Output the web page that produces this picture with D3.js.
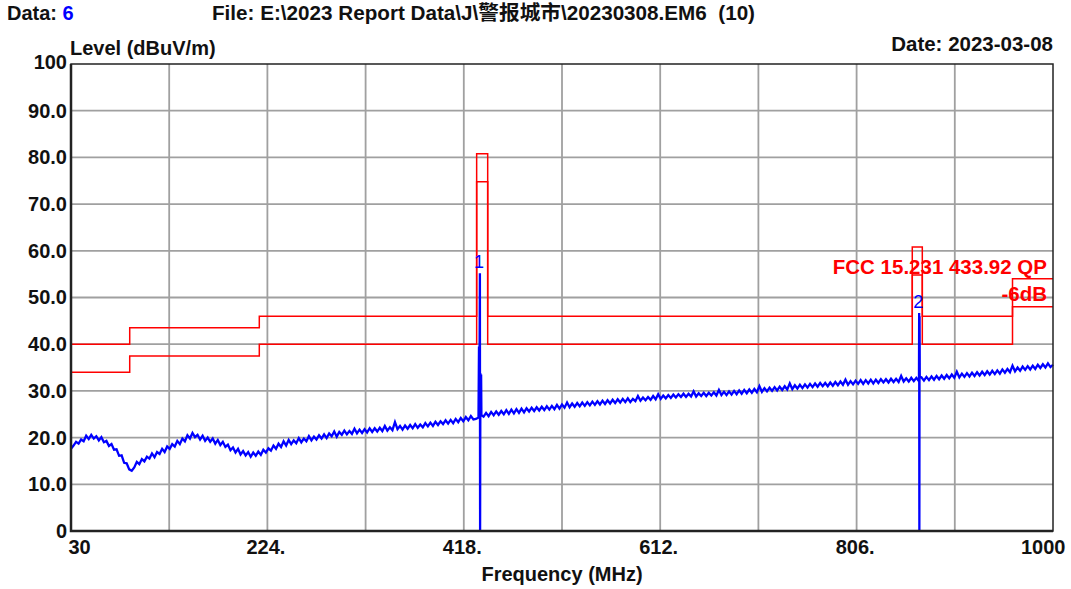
<!DOCTYPE html>
<html>
<head>
<meta charset="utf-8">
<script src="https://cdn.jsdelivr.net/npm/d3@7"></script>
<style>
  body { margin: 0; background: #fff; }
  svg text { font-family: "Liberation Sans", Arial, "Noto Sans CJK SC", sans-serif; font-weight: bold; }
</style>
</head>
<body>
<div id="chart"></div>
<script>
/* EMI scan chart */

// sweep: 30 MHz to 1000 MHz, one reading every 2.5 MHz (one row = 50 MHz)
var sweepStart = 30, sweepStep = 2.5;
var traceLevels = [
  17.6, 18.3, 19.1, 18.7, 19.6, 19.2, 20.4, 19.7, 20.6, 19.8, 20.3, 19.4, 20.1, 19.0, 19.3, 18.2, 18.6, 17.4, 17.5, 16.1,
  16.2, 14.6, 14.5, 13.2, 12.9, 13.6, 14.8, 14.3, 15.4, 14.9, 15.9, 15.5, 16.6, 15.8, 16.9, 16.5, 17.6, 16.9, 18.1, 17.6,
  18.6, 18.1, 19.3, 18.6, 19.8, 19.2, 20.5, 19.8, 21.0, 20.1, 20.6, 19.6, 20.4, 19.3, 20.0, 19.1, 19.8, 18.7, 19.5, 18.4,
  19.1, 18.0, 18.5, 17.3, 17.9, 16.8, 17.6, 16.4, 17.1, 16.2, 16.9, 15.9, 16.8, 16.1, 17.0, 16.3, 17.4, 16.8, 17.7, 17.2,
  18.3, 17.6, 18.7, 18.0, 19.2, 18.3, 19.5, 18.6, 19.4, 18.8, 19.9, 19.0, 19.8, 19.2, 20.3, 19.4, 20.2, 19.6, 20.5, 19.8,
  20.7, 19.9, 20.9, 20.3, 21.3, 20.2, 21.2, 20.6, 21.5, 20.7, 21.4, 20.8, 21.9, 20.9, 21.7, 21.0, 21.8, 21.1, 22.0, 21.2,
  22.0, 21.3, 22.1, 21.4, 22.5, 21.5, 22.2, 21.6, 23.3, 21.8, 22.5, 21.7, 22.6, 21.9, 22.7, 22.0, 22.9, 22.1, 22.8, 22.2,
  23.1, 22.4, 23.2, 22.5, 23.4, 22.7, 23.5, 22.9, 23.7, 23.0, 23.8, 23.1, 24.0, 23.3, 24.2, 23.5, 24.4, 23.7, 24.6, 23.9,
  24.0, 24.3, 25.1, 24.5, 25.3, 24.6, 25.5, 24.8, 25.6, 24.9, 25.7, 25.0, 25.9, 25.1, 26.0, 25.2, 26.1, 25.3, 26.2, 25.4,
  26.3, 25.6, 26.4, 25.7, 26.5, 25.8, 26.6, 25.9, 26.7, 26.0, 26.8, 26.1, 27.0, 26.2, 27.1, 26.4, 27.5, 26.5, 27.3, 26.6,
  27.4, 26.7, 27.5, 26.8, 27.6, 26.9, 27.7, 27.0, 27.8, 27.1, 27.9, 27.2, 28.0, 27.3, 28.1, 27.4, 28.2, 27.5, 28.3, 27.6,
  28.4, 27.6, 28.3, 27.8, 28.9, 27.9, 28.6, 28.0, 28.7, 28.1, 28.9, 28.2, 29.3, 28.3, 29.0, 28.4, 29.1, 28.5, 29.2, 28.6,
  29.3, 28.7, 29.4, 28.7, 29.4, 28.8, 29.9, 28.8, 29.5, 28.9, 29.6, 28.9, 29.6, 29.0, 29.7, 29.0, 30.2, 29.1, 29.8, 29.1,
  29.9, 29.2, 30.0, 29.3, 30.1, 29.4, 30.2, 29.5, 30.3, 29.6, 30.4, 29.7, 31.0, 29.8, 30.6, 29.9, 30.7, 30.0, 30.8, 30.1,
  30.9, 30.2, 31.0, 30.3, 31.6, 30.4, 31.2, 30.5, 31.3, 30.6, 31.4, 30.7, 31.5, 30.8, 31.6, 30.9, 31.7, 31.0, 31.7, 31.0,
  31.8, 31.1, 31.9, 31.2, 32.0, 31.3, 32.4, 31.3, 32.1, 31.4, 32.2, 31.5, 32.3, 31.5, 32.3, 31.6, 32.4, 31.6, 32.4, 31.7,
  32.5, 31.8, 32.5, 31.8, 32.6, 31.9, 32.6, 31.9, 33.2, 32.0, 32.7, 32.0, 32.8, 32.1, 32.8, 32.1, 32.9, 32.2, 33.0, 32.3,
  33.1, 32.4, 33.2, 32.5, 33.3, 32.6, 33.4, 32.7, 33.5, 32.8, 34.1, 32.9, 33.7, 33.0, 33.8, 33.1, 33.9, 33.2, 34.0, 33.3,
  34.1, 33.4, 34.2, 33.5, 34.3, 33.6, 34.4, 33.7, 34.6, 33.9, 34.7, 34.0, 35.4, 34.2, 35.0, 34.3, 35.2, 34.5, 35.3, 34.6,
  35.4, 34.7, 35.6, 34.9, 35.7, 35.0, 35.9, 35.1, 35.6
];

// extra readings around the two emissions [freq, level]
var spikePoints = [
  [433.0, 39.5], [433.3, 24.6], [433.6, 39.4], [433.9, 55.2],
  [434.1, 0], [434.4, 33.8], [434.7, 25.0], [435.1, 33.5], [435.4, 24.8],
  [867.6, 32.6], [867.8, 46.7], [868.0, 0], [868.2, 46.0], [868.4, 33.0]
];

// limit lines (step segments)
var limitFreqs = [30, 88, 216, 430.7, 441.6, 861, 870.9, 960, 1000];
var limitQP = [40, 43.5, 46, 80.8, 46, 60.8, 46, 54];
var limitQP6 = [34, 37.5, 40, 74.8, 40, 54.8, 40, 48];

var markerNames = ["1", "2"];
var markerFreqs = [433.9, 868.0];
var markerLevels = [55.2, 46.7];

var xTicks = [30, 224, 418, 612, 806, 1000];
var xTickLabels = ["30", "224.", "418.", "612.", "806.", "1000"];
var yTicks = [0, 10, 20, 30, 40, 50, 60, 70, 80, 90, 100];
var yTickLabels = ["0", "10.0", "20.0", "30.0", "40.0", "50.0", "60.0", "70.0", "80.0", "90.0", "100"];

// Build trace
var trace = [];
for (var i = 0; i < traceLevels.length; i++) {
  trace.push([sweepStart + i * sweepStep, traceLevels[i]]);
}
trace = trace.concat(spikePoints).sort(function(a, b) { return a[0] - b[0]; });

var W = 1071, H = 589;
var plotL = 71, plotR = 1053, plotT = 64, plotB = 531;

var svg = d3.select("#chart").append("svg")
            .attr("width", W)
            .attr("height", H);

var x = d3.scaleLinear().domain([30, 1000]).range([plotL, plotR]);
var y = d3.scaleLinear().domain([0, 100]).range([plotB, plotT]);

// Grid
var gridX = d3.range(1, 10).map(function(k) { return 30 + 97 * k; });
svg.selectAll("line.gx")
  .data(gridX)
  .enter()
  .append("line")
  .attr("class", "gx")
  .attr("x1", function(d) { return x(d); })
  .attr("x2", function(d) { return x(d); })
  .attr("y1", plotT)
  .attr("y2", plotB)
  .attr("stroke", "#a0a0a0")
  .attr("stroke-width", 1.8);

svg.selectAll("line.gy")
  .data(yTicks.slice(1, 10))
  .enter()
  .append("line")
  .attr("class", "gy")
  .attr("x1", plotL)
  .attr("x2", plotR)
  .attr("y1", function(d) { return y(d); })
  .attr("y2", function(d) { return y(d); })
  .attr("stroke", "#a0a0a0")
  .attr("stroke-width", 1.8);

// Limit lines
var stepLine = d3.line()
  .x(function(d) { return x(d[0]); })
  .y(function(d) { return y(d[1]); })
  .curve(d3.curveStepAfter);

function limitPoints(levels) {
  var pts = levels.map(function(v, i) { return [limitFreqs[i], v]; });
  pts.push([limitFreqs[limitFreqs.length - 1], levels[levels.length - 1]]);
  return pts;
}

[limitQP, limitQP6].forEach(function(levels) {
  svg.append("path")
    .attr("d", stepLine(limitPoints(levels)))
    .attr("fill", "none")
    .attr("stroke", "#ff0000")
    .attr("stroke-width", 1.5);
});

// Trace
var traceLine = d3.line()
  .x(function(d) { return x(d[0]); })
  .y(function(d) { return y(d[1]); });

svg.append("path")
  .attr("d", traceLine(trace))
  .attr("fill", "none")
  .attr("stroke", "#0000ff")
  .attr("stroke-width", 2.3)
  .attr("stroke-linejoin", "miter");

// Frame
svg.append("rect")
  .attr("x", plotL)
  .attr("y", plotT)
  .attr("width", plotR - plotL)
  .attr("height", plotB - plotT)
  .attr("fill", "none")
  .attr("stroke", "#222")
  .attr("stroke-width", 1.5);
svg.append("path")
  .attr("d", "M" + plotL + "," + plotT + "V" + plotB + "H" + plotR)
  .attr("fill", "none")
  .attr("stroke", "#222")
  .attr("stroke-width", 2.5);

// Axes labels
var yAxis = d3.axisLeft(y)
  .tickValues(yTicks)
  .tickFormat(function(d, i) { return yTickLabels[i]; })
  .tickSize(0)
  .tickPadding(4);
var gy = svg.append("g")
  .attr("transform", "translate(" + plotL + ",0)")
  .call(yAxis);
gy.select(".domain").remove();
gy.selectAll("text")
  .attr("font-size", 20)
  .attr("font-weight", "bold")
  .attr("fill", "#111")
  .attr("font-family", "Liberation Sans, Arial, sans-serif")
  .attr("dy", function(d, i) { return i == yTicks.length - 1 ? "0.2em" : "0.32em"; });

var xAxis = d3.axisBottom(x)
  .tickValues(xTicks)
  .tickFormat(function(d, i) { return xTickLabels[i]; })
  .tickSize(0)
  .tickPadding(9);
var gx = svg.append("g")
  .attr("transform", "translate(0," + plotB + ")")
  .call(xAxis);
gx.select(".domain").remove();
gx.selectAll("text")
  .attr("font-size", 20)
  .attr("font-weight", "bold")
  .attr("fill", "#111")
  .attr("font-family", "Liberation Sans, Arial, sans-serif")
  .attr("text-anchor", function(d, i) {
    if (i == 0) return "start";
    if (i == xTicks.length - 1) return "end";
    return "middle";
  })
  .attr("dx", function(d, i) {
    if (i == 0) return -3;
    if (i == xTicks.length - 1) return 12;
    return -2;
  });

// Markers
svg.selectAll("text.marker")
  .data(markerNames)
  .enter()
  .append("text")
  .attr("class", "marker")
  .attr("x", function(d, i) { return x(markerFreqs[i]) - 1; })
  .attr("y", function(d, i) { return y(markerLevels[i]) - 5; })
  .attr("text-anchor", "middle")
  .attr("font-size", 18)
  .style("font-weight", "normal")
  .attr("fill", "#0000ff")
  .text(function(d) { return d; });

// Limit legend
svg.append("text")
  .attr("x", 1047)
  .attr("y", 274)
  .attr("text-anchor", "end")
  .attr("font-size", 20.5)
  .attr("fill", "#ff0000")
  .text("FCC 15.231 433.92 QP");
svg.append("text")
  .attr("x", 1047)
  .attr("y", 301)
  .attr("text-anchor", "end")
  .attr("font-size", 20.5)
  .attr("fill", "#ff0000")
  .text("-6dB");

// Header texts
var head = svg.append("text")
  .attr("x", 7)
  .attr("y", 20)
  .attr("font-size", 20)
  .attr("fill", "#111");
head.append("tspan").text("Data: ");
head.append("tspan").attr("fill", "#0000ff").text("6");

svg.append("text")
  .attr("x", 212)
  .attr("y", 20)
  .attr("font-size", 20)
  .attr("fill", "#111")
  .attr("xml:space", "preserve")
  .attr("textLength", 543)
  .attr("lengthAdjust", "spacingAndGlyphs")
  .text("File: E:\\2023 Report Data\\J\\警报城市\\20230308.EM6  (10)");

svg.append("text")
  .attr("x", 70)
  .attr("y", 55)
  .attr("font-size", 20)
  .attr("fill", "#111")
  .text("Level (dBuV/m)");

svg.append("text")
  .attr("x", 1053)
  .attr("y", 51)
  .attr("text-anchor", "end")
  .attr("font-size", 20.5)
  .attr("fill", "#111")
  .text("Date: 2023-03-08");

svg.append("text")
  .attr("x", 562)
  .attr("y", 581)
  .attr("text-anchor", "middle")
  .attr("font-size", 20)
  .attr("fill", "#111")
  .text("Frequency (MHz)");
</script>
</body>
</html>
